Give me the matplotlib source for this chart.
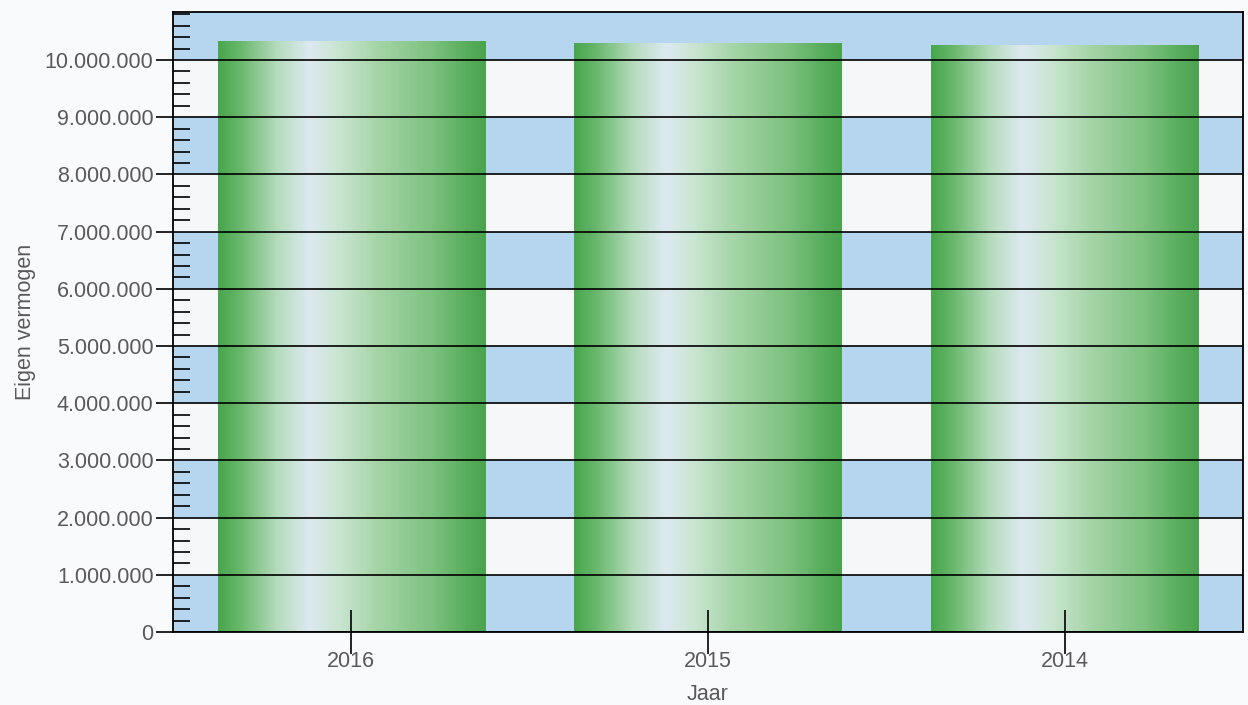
import numpy as np
import matplotlib
matplotlib.use('Agg')
import matplotlib.pyplot as plt
from matplotlib.colors import LinearSegmentedColormap
from matplotlib.ticker import MultipleLocator, FuncFormatter

plt.rcParams['font.family'] = ['Liberation Sans', 'DejaVu Sans']

jaren = ['2016', '2015', '2014']
eigen_vermogen = [10330000, 10300000, 10270000]

text_col = '#5a5a5a'
band_blue = '#b6d5ee'
band_white = '#f6f7f9'

# horizontal shading of the bars (cylinder look)
bar_cmap = LinearSegmentedColormap.from_list('bar', [
    (0.00, '#48a64c'), (0.08, '#68b76b'), (0.22, '#b4dbbc'),
    (0.34, '#dde9f0'), (0.45, '#c9e5d1'), (0.60, '#a4d4a6'),
    (0.80, '#7dc17f'), (0.93, '#58ad5c'), (1.00, '#4aa34e')])

fig = plt.figure(figsize=(12.48, 7.05), dpi=100, facecolor='#f9fafc')
ax = fig.add_axes([0.1386, 0.1035, 0.8574, 0.8795])
ax.set_facecolor(band_white)

ymax = 10.84e6

# alternating blue / white bands
for lo in np.arange(0, ymax, 2e6):
    ax.axhspan(lo, lo + 1e6, color=band_blue, zorder=0, lw=0)

x = np.arange(len(jaren))
bars = ax.bar(x, eigen_vermogen, width=0.75, color='none', zorder=1)
grad = np.linspace(0, 1, 256).reshape(1, -1)
for b in bars:
    x0, w, h = b.get_x(), b.get_width(), b.get_height()
    im = ax.imshow(grad, cmap=bar_cmap, aspect='auto', extent=[x0, x0 + w, 0, h],
                   zorder=1, interpolation='bicubic')
    im.set_clip_path(b)

ax.set_xlim(-0.5, 2.5)
ax.set_ylim(0, ymax)

ax.yaxis.set_major_locator(MultipleLocator(1e6))
ax.yaxis.set_minor_locator(MultipleLocator(2e5))
ax.yaxis.set_major_formatter(FuncFormatter(lambda v, p: f'{int(v):,}'.replace(',', '.')))
ax.grid(axis='y', which='major', color='black', lw=1.2, zorder=2)
ax.set_axisbelow(False)

ax.set_xticks(x)
ax.set_xticklabels(jaren)
ax.tick_params(axis='y', which='major', direction='out', length=12, width=1.2,
               labelsize=15.5, labelcolor=text_col, pad=2)
ax.tick_params(axis='y', which='minor', direction='in', length=12, width=1.2)
ax.tick_params(axis='x', which='major', direction='inout', length=32, width=1.2,
               labelsize=15.5, labelcolor=text_col, pad=-2)

for s in ax.spines.values():
    s.set_color('black')
    s.set_linewidth(1.3)
    s.set_zorder(3)

ax.set_ylabel('Eigen vermogen', fontsize=15.5, color=text_col, labelpad=6)
ax.set_xlabel('Jaar', fontsize=15.5, color=text_col, labelpad=8)

fig.savefig('out.png', dpi=100, facecolor=fig.get_facecolor())
